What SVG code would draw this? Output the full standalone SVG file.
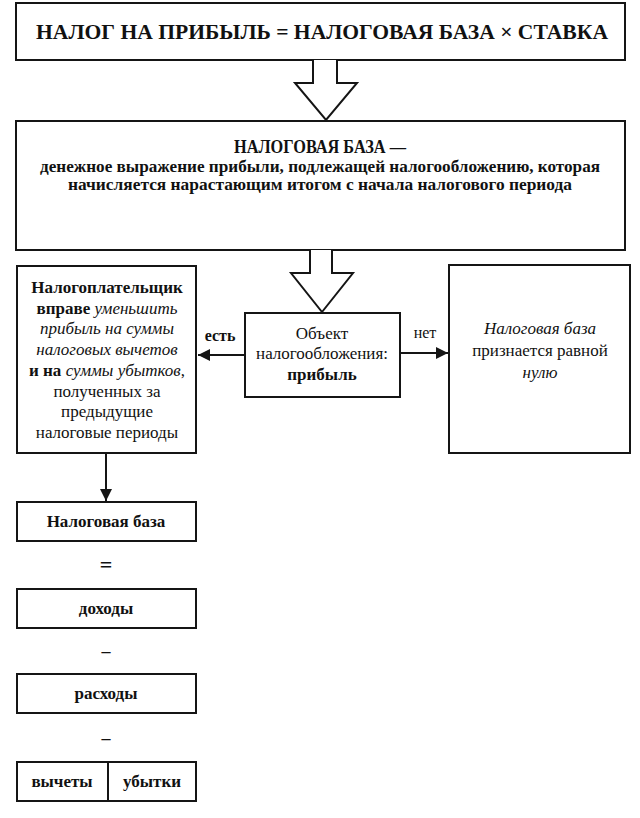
<svg xmlns="http://www.w3.org/2000/svg" width="640" height="818" viewBox="0 0 640 818">
<defs>
<style>
.box{fill:#fff;stroke:#151515;stroke-width:2}
.ln{fill:none;stroke:#151515;stroke-width:2}
.hollow{fill:#fff;stroke:#151515;stroke-width:2;stroke-linejoin:miter}
text{font-family:"Liberation Serif","Times New Roman",serif;fill:#111;text-anchor:middle}
.b{font-weight:bold}
.i{font-style:italic}
.t16{font-size:16px}
.t17{font-size:17px}
</style>
<marker id="ah" viewBox="0 0 10 10" refX="10" refY="5" markerWidth="6" markerHeight="6" orient="auto" markerUnits="strokeWidth">
<path d="M0,0 L10,5 L0,10 Z" fill="#151515"/>
</marker>
</defs>
<rect width="640" height="818" fill="#fff"/>

<g id="formula">
<rect class="box" x="16" y="3" width="609" height="57"/>
<text class="b" x="322" y="39" font-size="22" textLength="572" lengthAdjust="spacingAndGlyphs">НАЛОГ НА ПРИБЫЛЬ = НАЛОГОВАЯ БАЗА × СТАВКА</text>
</g>

<g id="definition">
<rect class="box" x="16" y="121" width="609" height="129"/>
<text class="b" x="320" y="153" font-size="18" textLength="172" lengthAdjust="spacingAndGlyphs">НАЛОГОВАЯ БАЗА —</text>
<text class="b" x="320" y="172" font-size="16" textLength="560" lengthAdjust="spacingAndGlyphs">денежное выражение прибыли, подлежащей налогообложению, которая</text>
<text class="b" x="320" y="190" font-size="16" textLength="504" lengthAdjust="spacingAndGlyphs">начисляется нарастающим итогом с начала налогового периода</text>
</g>

<g id="object">
<rect class="box" x="245" y="313" width="155" height="84"/>
<text class="t17" x="322" y="339">Объект</text>
<text class="t17" x="322" y="359">налогообложения:</text>
<text class="t17 b" x="322" y="380">прибыль</text>
</g>

<g id="deductions">
<rect class="box" x="17" y="266" width="179" height="187"/>
<text class="t17" x="107" y="293"><tspan class="b">Налогоплательщик</tspan></text>
<text class="t17" x="107" y="314"><tspan class="b">вправе </tspan><tspan class="i">уменьшить</tspan></text>
<text class="t17 i" x="107" y="334">прибыль на суммы</text>
<text class="t17 i" x="107" y="355">налоговых вычетов</text>
<text class="t17" x="107" y="376"><tspan class="b">и на </tspan><tspan class="i">суммы убытков</tspan>,</text>
<text class="t17" x="107" y="397">полученных за</text>
<text class="t17" x="107" y="417">предыдущие</text>
<text class="t17" x="107" y="438">налоговые периоды</text>
</g>

<g id="zero">
<rect class="box" x="449" y="265" width="181" height="188"/>
<text class="t17 i" x="540" y="334">Налоговая база</text>
<text class="t17" x="540" y="356">признается равной</text>
<text class="t17 i" x="540" y="378">нулю</text>
</g>

<g id="base">
<rect class="box" x="17" y="502" width="179" height="39"/>
<text class="t17 b" x="106" y="527">Налоговая база</text>
</g>
<g id="income">
<rect class="box" x="17" y="589" width="179" height="39"/>
<text class="t17 b" x="106" y="614">доходы</text>
</g>
<g id="expenses">
<rect class="box" x="17" y="674" width="179" height="39"/>
<text class="t17 b" x="106" y="699">расходы</text>
</g>
<g id="split">
<rect class="box" x="17" y="762" width="179" height="39"/>
<line class="ln" x1="108" y1="762" x2="108" y2="801"/>
<text class="t17 b" x="62" y="787">вычеты</text>
<text class="t17 b" x="152" y="787">убытки</text>
</g>

<g id="operators">
<text class="b" font-size="22" x="106" y="572">=</text>
<text class="b" font-size="18" x="106" y="657">–</text>
<text class="b" font-size="18" x="106" y="744">–</text>
</g>

<g id="connectors">
<path class="hollow" d="M313,60 L313,83 L295,83 L326,120 L357,83 L337,83 L337,60"/>
<path class="hollow" d="M310,250 L310,273 L291,273 L322,312 L353,273 L332,273 L332,250"/>
<line class="ln" x1="245" y1="355" x2="198" y2="355" marker-end="url(#ah)"/>
<line class="ln" x1="400" y1="353" x2="448" y2="353" marker-end="url(#ah)"/>
<line class="ln" x1="106" y1="453" x2="106" y2="501" marker-end="url(#ah)"/>
<text class="t16 b" x="220" y="341">есть</text>
<text class="t16" x="425" y="338">нет</text>
</g>
</svg>
